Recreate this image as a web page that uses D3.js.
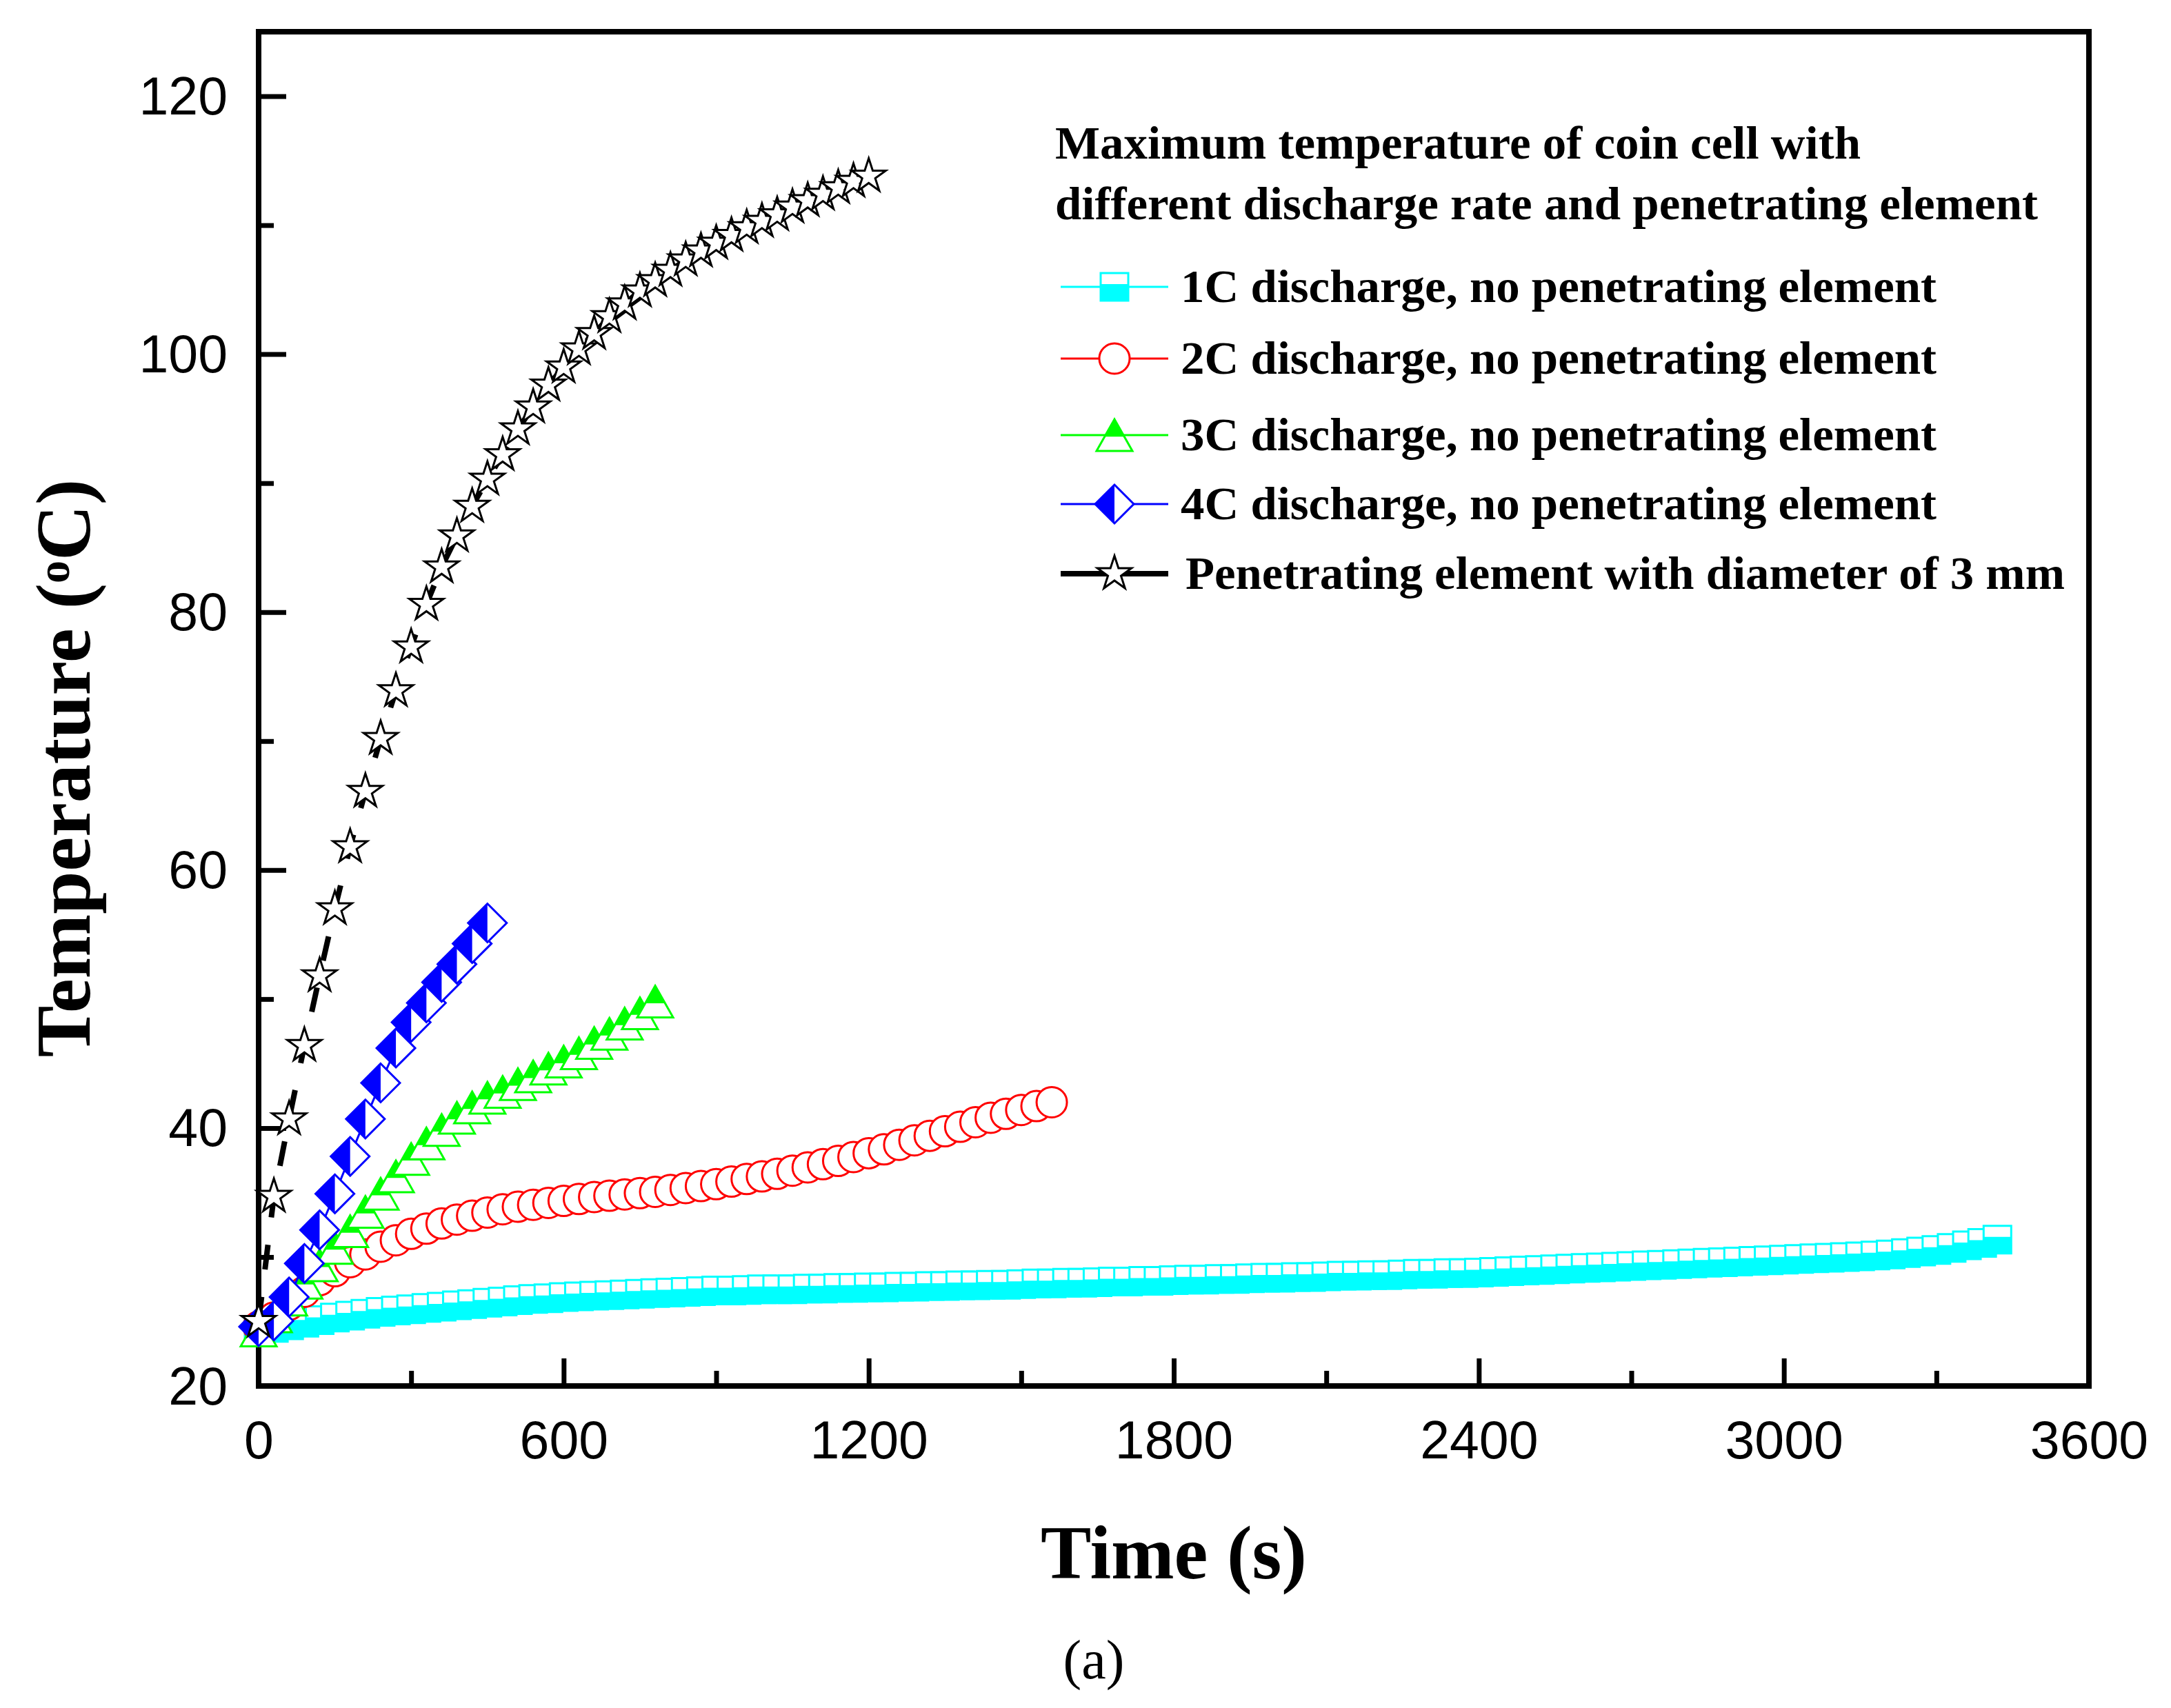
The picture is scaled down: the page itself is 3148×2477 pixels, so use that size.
<!DOCTYPE html>
<html>
<head>
<meta charset="utf-8">
<script src="https://cdn.jsdelivr.net/npm/d3@7"></script>
<style>
  html, body { margin: 0; padding: 0; background: #fff; }
</style>
</head>
<body>
<svg id="chart" width="3148" height="2477"></svg>
<script>
// readings were logged every 30 s, starting at t = 0
const STEP = 30

// 1C discharge, no penetrating element (0 .. 3420 s)
const temp1C = [
  24.3, 24.5, 24.7, 24.9, 25.1, 25.3, 25.45, 25.6, 25.75, 25.85,
  25.95, 26.05, 26.15, 26.25, 26.35, 26.45, 26.55, 26.65, 26.75, 26.8,
  26.9, 26.95, 27.0, 27.05, 27.1, 27.15, 27.2, 27.25, 27.3, 27.35,
  27.4, 27.4, 27.45, 27.5, 27.5, 27.5, 27.55, 27.55, 27.6, 27.6,
  27.65, 27.65, 27.7, 27.7, 27.75, 27.75, 27.8, 27.8, 27.85, 27.85,
  27.9, 27.95, 27.95, 28.0, 28.0, 28.05, 28.1, 28.1, 28.15, 28.15,
  28.2, 28.25, 28.25, 28.3, 28.3, 28.35, 28.4, 28.4, 28.45, 28.45,
  28.5, 28.55, 28.55, 28.6, 28.6, 28.65, 28.7, 28.7, 28.75, 28.75,
  28.8, 28.85, 28.9, 28.95, 29.0, 29.05, 29.1, 29.15, 29.2, 29.25,
  29.3, 29.35, 29.4, 29.45, 29.5, 29.55, 29.6, 29.65, 29.7, 29.75,
  29.8, 29.85, 29.9, 29.95, 30.0, 30.05, 30.12, 30.2, 30.3, 30.42,
  30.55, 30.7, 30.9, 31.1, 31.35
]

// 2C discharge (0 .. 1560 s)
const temp2C = [
  24.6, 25.3, 26.3, 27.3, 28.2, 28.9, 29.6, 30.2, 30.8, 31.3,
  31.8, 32.2, 32.6, 32.9, 33.2, 33.45, 33.7, 33.9, 34.05, 34.2,
  34.35, 34.5, 34.65, 34.75, 34.85, 34.95, 35.05, 35.2, 35.35, 35.5,
  35.65, 35.85, 36.05, 36.25, 36.45, 36.7, 36.95, 37.2, 37.45, 37.75,
  38.05, 38.35, 38.7, 39.05, 39.4, 39.75, 40.1, 40.45, 40.8, 41.1,
  41.4, 41.7, 42.0
]

// 3C discharge (0 .. 780 s)
const temp3C = [
  24.3, 25.4, 26.7, 28.0, 29.35, 30.7, 32.0, 33.5, 34.9, 36.25,
  37.6, 38.8, 39.85, 40.8, 41.6, 42.35, 42.8, 43.4, 44.0, 44.6,
  45.15, 45.8, 46.6, 47.3, 48.1, 48.9, 49.8
]

// 4C discharge (0 .. 450 s)
const temp4C = [
  24.6, 25.05, 26.9, 29.5, 32.1, 34.9, 37.8, 40.7, 43.5, 46.2,
  48.2, 49.7, 51.3, 52.7, 54.3, 55.9
]

// penetrating element, 3 mm (0 .. 1200 s)
const tempPen = [
  25.0, 34.7, 40.7, 46.4, 51.8, 57.0, 61.8, 66.1, 70.2, 73.9,
  77.3, 80.6, 83.5, 85.9, 88.2, 90.3, 92.2, 94.2, 95.9, 97.6,
  99.0, 100.4, 101.6, 102.9, 103.9, 104.9, 105.7, 106.5, 107.3, 108.0,
  108.6, 109.2, 109.8, 110.3, 110.8, 111.4, 111.9, 112.4, 112.9, 113.4,
  113.8
]

const seriesLabels = [
  '1C discharge, no penetrating element',
  '2C discharge, no penetrating element',
  '3C discharge, no penetrating element',
  '4C discharge, no penetrating element',
  'Penetrating element with diameter of 3 mm'
]
const legendTitle = [
  'Maximum temperature of coin cell with',
  'different discharge rate and penetrating element'
]

const xTicks = [0, 600, 1200, 1800, 2400, 3000, 3600]
const xMinorTicks = [300, 900, 1500, 2100, 2700, 3300]
const yTicks = [20, 40, 60, 80, 100, 120]
const yMinorTicks = [30, 50, 70, 90, 110]

const svg = d3.select('#chart')

const plot = { left: 375, right: 3029, top: 46, bottom: 2010 }
const x = d3.scaleLinear().domain([0, 3600]).range([plot.left, plot.right])
const y = d3.scaleLinear().domain([20, 125]).range([plot.bottom, plot.top])

const toPoints = arr => arr.map((T, i) => ({ t: i * STEP, T: T }))

const series = [
  { values: temp1C, color: '#00ffff', kind: 'square', lineWidth: 3, dash: null },
  { values: temp2C, color: '#ff0000', kind: 'circle', lineWidth: 3, dash: null },
  { values: temp3C, color: '#00ff00', kind: 'triangle', lineWidth: 3, dash: null },
  { values: temp4C, color: '#0000ff', kind: 'diamond', lineWidth: 3, dash: null },
  { values: tempPen, color: '#000000', kind: 'star', lineWidth: 8, dash: '36,40' }
]

// outline path + optional half-fill path for each marker kind
function markerPaths (kind) {
  if (kind === 'square') {
    const h = 20
    return {
      outline: `M${-h},${-h}H${h}V${h}H${-h}Z`,
      fill: `M${-h},${-h + 16}H${h}V${h}H${-h}Z`
    }
  }
  if (kind === 'circle') {
    const p = d3.path()
    p.arc(0, 0, 22, 0, 2 * Math.PI)
    return { outline: p.toString(), fill: null }
  }
  if (kind === 'triangle') {
    const w = 26, h = 23, f = 0.55
    const yc = -h + 2 * h * f
    return {
      outline: `M0,${-h}L${w},${h}L${-w},${h}Z`,
      fill: `M0,${-h}L${w * f},${yc}L${-w * f},${yc}Z`
    }
  }
  if (kind === 'diamond') {
    const s = 28
    return {
      outline: `M0,${-s}L${s},0L0,${s}L${-s},0Z`,
      fill: `M0,${-s}L0,${s}L${-s},0Z`
    }
  }
  // star
  return { outline: d3.symbol(d3.symbolStar, 26 * 26 / 0.89081)(), fill: null }
}

function drawMarker (sel, s) {
  const paths = markerPaths(s.kind)
  sel.append('path')
    .attr('d', paths.outline)
    .attr('fill', '#fff')
    .attr('stroke', s.color)
    .attr('stroke-width', 3)
  if (paths.fill) {
    sel.append('path')
      .attr('d', paths.fill)
      .attr('fill', s.color)
  }
}

// frame
svg.append('rect')
  .attr('x', plot.left)
  .attr('y', plot.top)
  .attr('width', plot.right - plot.left)
  .attr('height', plot.bottom - plot.top)
  .attr('fill', 'none')
  .attr('stroke', '#000')
  .attr('stroke-width', 8)

// axes with inward ticks
function styleAxis (g) {
  g.select('.domain').remove()
  g.selectAll('.tick line').attr('stroke', '#000').attr('stroke-width', 7)
  g.selectAll('.tick text')
    .attr('font-family', '"Liberation Sans", Arial, sans-serif')
    .attr('font-size', 77)
    .attr('fill', '#000')
}

svg.append('g')
  .attr('transform', `translate(0,${plot.bottom})`)
  .call(d3.axisBottom(x).tickValues(xTicks).tickSize(-40).tickFormat(d3.format('d')))
  .call(styleAxis)
  .call(g => g.selectAll('.tick text').attr('y', 105).attr('dy', null))

svg.append('g')
  .attr('transform', `translate(0,${plot.bottom})`)
  .call(d3.axisBottom(x).tickValues(xMinorTicks).tickSize(-22).tickFormat(''))
  .call(styleAxis)

svg.append('g')
  .attr('transform', `translate(${plot.left},0)`)
  .call(d3.axisLeft(y).tickValues(yTicks).tickSize(-40).tickFormat(d3.format('d')))
  .call(styleAxis)
  .call(g => g.selectAll('.tick text').attr('x', -45).attr('dy', null).attr('y', 26))

svg.append('g')
  .attr('transform', `translate(${plot.left},0)`)
  .call(d3.axisLeft(y).tickValues(yMinorTicks).tickSize(-22).tickFormat(''))
  .call(styleAxis)

// data
const line = d3.line().x(d => x(d.t)).y(d => y(d.T))

series.forEach(s => {
  const pts = toPoints(s.values)
  const g = svg.append('g')
  g.append('path')
    .datum(pts)
    .attr('d', line)
    .attr('fill', 'none')
    .attr('stroke', s.color)
    .attr('stroke-width', s.lineWidth)
    .attr('stroke-dasharray', s.dash)
  g.selectAll('g.mk')
    .data(pts)
    .enter()
    .append('g')
    .attr('class', 'mk')
    .attr('transform', d => `translate(${x(d.t)},${y(d.T)})`)
    .each(function () { drawMarker(d3.select(this), s) })
})

// legend
const serif = '"Liberation Serif", "Times New Roman", serif'
const titleWidths = [1168, 1425]
const titleBase = [230, 318]
legendTitle.forEach((txt, i) => {
  svg.append('text')
    .attr('x', 1530)
    .attr('y', titleBase[i])
    .attr('font-family', serif)
    .attr('font-weight', 'bold')
    .attr('font-size', 68)
    .attr('textLength', titleWidths[i])
    .attr('lengthAdjust', 'spacingAndGlyphs')
    .text(txt)
})

const rowY = [416, 520, 631, 731, 832]
const rowTextX = [1712, 1712, 1712, 1712, 1719]
const rowTextW = [1096, 1096, 1096, 1096, 1275]
series.forEach((s, i) => {
  const g = svg.append('g').attr('transform', `translate(0,${rowY[i]})`)
  g.append('line')
    .attr('x1', 1538).attr('x2', 1694)
    .attr('stroke', s.color)
    .attr('stroke-width', s.lineWidth)
  drawMarker(g.append('g').attr('transform', 'translate(1616,0)'), s)
  g.append('text')
    .attr('x', rowTextX[i])
    .attr('y', 22)
    .attr('font-family', serif)
    .attr('font-weight', 'bold')
    .attr('font-size', 68)
    .attr('textLength', rowTextW[i])
    .attr('lengthAdjust', 'spacingAndGlyphs')
    .text(seriesLabels[i])
})

// axis titles
svg.append('text')
  .attr('x', (plot.left + plot.right) / 2)
  .attr('y', 2289)
  .attr('text-anchor', 'middle')
  .attr('font-family', serif)
  .attr('font-weight', 'bold')
  .attr('font-size', 110)
  .text('Time (s)')

const yTitle = svg.append('text')
  .attr('transform', 'translate(130,1114) rotate(-90)')
  .attr('text-anchor', 'middle')
  .attr('font-family', serif)
  .attr('font-weight', 'bold')
  .attr('font-size', 112)
yTitle.append('tspan').text('Temperature (')
yTitle.append('tspan').attr('baseline-shift', '45%').attr('font-size', 66).text('o')
yTitle.append('tspan').text('C)')

svg.append('text')
  .attr('x', 1586)
  .attr('y', 2434)
  .attr('text-anchor', 'middle')
  .attr('font-family', serif)
  .attr('font-size', 80)
  .text('(a)')
</script>
</body>
</html>
